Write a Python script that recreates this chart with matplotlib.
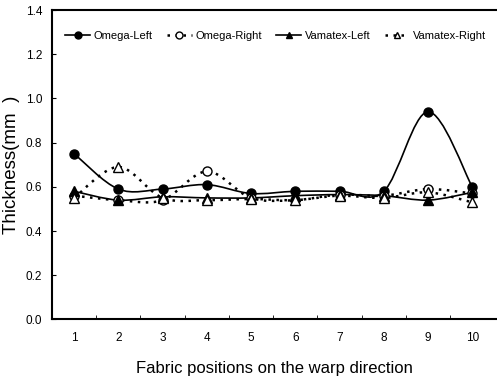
import numpy as np
import matplotlib.pyplot as plt
from matplotlib.path import Path
from matplotlib.patches import PathPatch
from matplotlib.lines import Line2D

# data
positions = [1, 2, 3, 4, 5, 6, 7, 8, 9, 10]
omega_left = [0.75, 0.59, 0.59, 0.61, 0.57, 0.58, 0.58, 0.58, 0.94, 0.60]
omega_right = [0.56, 0.54, 0.54, 0.67, 0.55, 0.54, 0.565, 0.56, 0.59, 0.57]
vamatex_left = [0.58, 0.54, 0.555, 0.55, 0.55, 0.56, 0.565, 0.56, 0.54, 0.575]
vamatex_right = [0.55, 0.69, 0.55, 0.54, 0.545, 0.54, 0.56, 0.55, 0.575, 0.53]
yticks = [0.0, 0.2, 0.4, 0.6, 0.8, 1.0, 1.2, 1.4]

plt.rcParams['font.family'] = ['Liberation Sans', 'DejaVu Sans']


def smooth_path(x, y):
    # Catmull-Rom through the points, drawn as cubic bezier segments
    x = np.asarray(x, float)
    y = np.asarray(y, float)
    pts = np.column_stack([x, y])
    verts = [pts[0]]
    codes = [Path.MOVETO]
    n = len(pts)
    for i in range(n - 1):
        p0 = pts[i - 1] if i > 0 else pts[i]
        p1 = pts[i]
        p2 = pts[i + 1]
        p3 = pts[i + 2] if i + 2 < n else pts[i + 1]
        c1 = p1 + (p2 - p0) / 6.0
        c2 = p2 - (p3 - p1) / 6.0
        verts += [c1, c2, p2]
        codes += [Path.CURVE4] * 3
    return Path(verts, codes)


fig = plt.figure(figsize=(4.97, 3.79), dpi=100)
ax = fig.add_axes([0.1046, 0.157, 0.8954, 0.8166])

dot = (0, (1, 2.2))
series = [
    ('Omega-Left', omega_left, 'o', 'black', '-', 1.2),
    ('Omega-Right', omega_right, 'o', 'white', dot, 1.8),
    ('Vamatex-Left', vamatex_left, '^', 'black', '-', 1.2),
    ('Vamatex-Right', vamatex_right, '^', 'white', dot, 1.8),
]

handles = []
for name, vals, mk, fc, ls, lw in series:
    patch = PathPatch(smooth_path(positions, vals), facecolor='none',
                      edgecolor='black', linestyle=ls, linewidth=lw)
    ax.add_patch(patch)
    ax.plot(positions, vals, linestyle='none', marker=mk, markersize=6.5,
            markerfacecolor=fc, markeredgecolor='black', markeredgewidth=1.0,
            zorder=3)
    handles.append(Line2D([], [], color='black', linestyle=ls, linewidth=lw,
                          marker=mk, markersize=5, markerfacecolor=fc,
                          markeredgecolor='black', label=name))

ax.set_xlim(0.5, 10.56)
ax.set_ylim(0, 1.4)
ax.set_yticks(yticks)
ax.set_yticklabels(['%.1f' % v for v in yticks], fontsize=8.5)
ax.set_xticks(positions)
ax.set_xticklabels([str(p) for p in positions], fontsize=8.5)
ax.set_xticks(np.arange(1.5, 10.5, 1.0), minor=True)
ax.tick_params(axis='x', which='major', length=0, pad=9)
ax.tick_params(axis='x', which='minor', direction='in', length=3)
ax.tick_params(axis='y', direction='in', length=3, pad=7)

ax.spines['right'].set_visible(False)
for s in ['left', 'bottom', 'top']:
    ax.spines[s].set_linewidth(1.5)

ax.set_ylabel('Thickness(mm  )', fontsize=13.5, labelpad=4)
ax.set_xlabel('Fabric positions on the warp direction', fontsize=12, labelpad=12)

ax.legend(handles=handles, loc='upper left', bbox_to_anchor=(0.015, 0.955),
          ncol=4, frameon=False, fontsize=8, handlelength=2.2,
          handletextpad=0.35, columnspacing=1.3, borderaxespad=0.2)

fig.savefig('out.png', dpi=100)
